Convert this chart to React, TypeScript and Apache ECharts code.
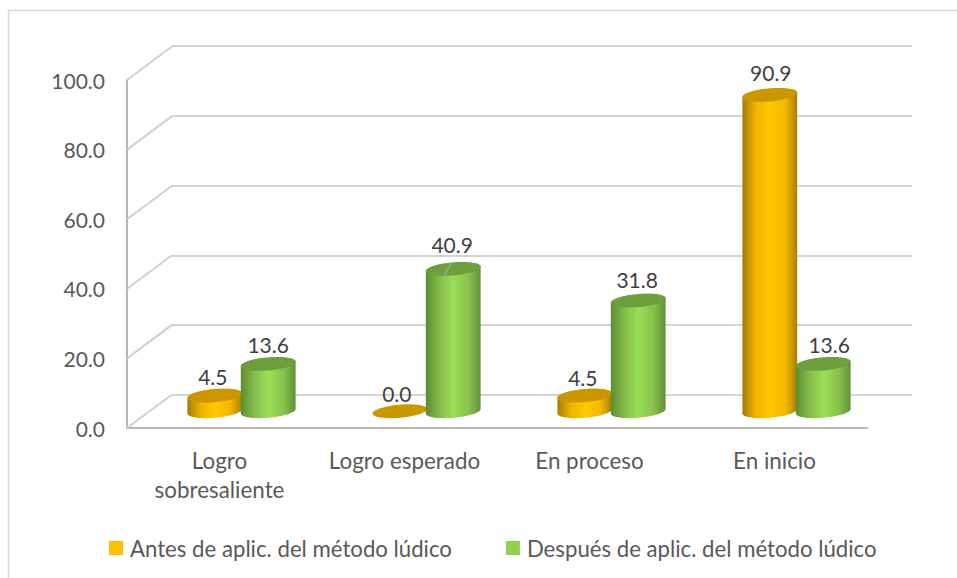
import React, { useEffect, useRef } from "react";
import * as echarts from "echarts";

const categories = ["Logro\nsobresaliente", "Logro esperado", "En proceso", "En inicio"];
const antes = [4.5, 0.0, 4.5, 90.9];
const despues = [13.6, 40.9, 31.8, 13.6];
const seriesNames = ["Antes de aplic. del método lúdico", "Después de aplic. del método lúdico"];
const yTicks = [0, 20, 40, 60, 80, 100];

const FONT = "Lato";
const DEPTH_X = 45;
const DEPTH_Y = 33.5;
const RX = 27.5;
const RY = 6.5;
const TILT = (-5 * Math.PI) / 180;

const ellipsePoint = (cx: number, cy: number, t: number) => [
  cx + RX * Math.cos(t) * Math.cos(TILT) - RY * Math.sin(t) * Math.sin(TILT),
  cy + RX * Math.cos(t) * Math.sin(TILT) + RY * Math.sin(t) * Math.cos(TILT),
];

const sample = (cx: number, cy: number, from: number, to: number, n = 40) => {
  const out: number[][] = [];
  for (let i = 0; i <= n; i++) out.push(ellipsePoint(cx, cy, from + ((to - from) * i) / n));
  return out;
};

const cylinderSeries = (
  name: string,
  values: number[],
  offsetX: number,
  legendColor: string,
  sideStops: [number, string][],
  topColor: string,
  nudges: [number, number][],
  z: number,
) => ({
  type: "custom",
  name,
  xAxisIndex: 0,
  yAxisIndex: 0,
  z,
  itemStyle: { color: legendColor },
  data: values.map((v, i) => [i, v]),
  encode: { x: 0, y: 1 },
  renderItem: (_: any, api: any) => {
    const i = api.value(0);
    const v = api.value(1);
    const base = api.coord([i, 0]);
    const top = api.coord([i, v]);
    const cx = base[0] + offsetX;
    const by = base[1] - DEPTH_Y / 2;
    const ty = top[1] - DEPTH_Y / 2;
    const children: any[] = [];
    if (v > 0) {
      children.push({
        type: "polygon",
        shape: {
          points: [...sample(cx, by, Math.PI, 0), ...sample(cx, ty, 0, -Math.PI)],
        },
        style: {
          fill: {
            type: "linear",
            x: 0,
            y: 0,
            x2: 1,
            y2: 0,
            colorStops: sideStops.map(([offset, color]) => ({ offset, color })),
          },
        },
      });
    }
    children.push({
      type: "polygon",
      shape: { points: sample(cx, ty, 0, Math.PI * 2, 64) },
      style: { fill: topColor },
    });
    const [nx, ny] = nudges[i];
    children.push({
      type: "text",
      style: {
        text: v.toFixed(1),
        x: cx + nx,
        y: ty + ny,
        fill: "#404040",
        font: `21px ${FONT}`,
        align: "center",
        verticalAlign: "middle",
      },
    });
    if (v === 40.9) {
      children.push({
        type: "line",
        shape: { x1: cx - 2, y1: ty - 6, x2: cx - 9, y2: ty + 7 },
        style: { stroke: "#a6a6a6", lineWidth: 1.2 },
      });
    }
    return { type: "group", children };
  },
});

export default function App() {
  const ref = useRef<HTMLDivElement>(null);
  useEffect(() => {
    const chart = echarts.init(ref.current!, undefined, { renderer: "svg" });
    chart.setOption({
      animation: false,
      backgroundColor: "#ffffff",
      grid: [
        { left: 127, top: 80, width: 740, height: 348 },
        { left: 172, top: 46, width: 740, height: 349 },
      ],
      xAxis: [
        {
          type: "category",
          gridIndex: 0,
          data: categories,
          axisTick: { show: false },
          axisLine: { lineStyle: { color: "#b5b5b5", width: 2 } },
          axisLabel: {
            color: "#595959",
            fontFamily: FONT,
            fontSize: 22.4,
            lineHeight: 29,
            margin: 18,
            verticalAlign: "top",
            interval: 0,
          },
        },
        { type: "category", gridIndex: 1, data: categories, show: false },
      ],
      yAxis: [
        {
          type: "value",
          gridIndex: 0,
          min: 0,
          max: 100,
          interval: 20,
          axisLine: { show: true, lineStyle: { color: "#b5b5b5", width: 2 } },
          axisTick: { show: false },
          splitLine: { show: false },
          axisLabel: {
            color: "#595959",
            fontFamily: FONT,
            fontSize: 21,
            margin: 22,
            padding: [2, 0, 0, 0],
            formatter: (v: number) => v.toFixed(1),
          },
        },
        {
          type: "value",
          gridIndex: 1,
          min: 0,
          max: 100,
          interval: 20,
          axisLine: { show: false },
          axisTick: { show: false },
          axisLabel: { show: false },
          splitLine: { show: true, lineStyle: { color: "#d4d4d4", width: 2 } },
        },
      ],
      legend: {
        left: 109,
        top: 537,
        padding: 0,
        itemWidth: 14,
        itemHeight: 14,
        itemGap: 54,
        icon: "rect",
        data: seriesNames,
        textStyle: { color: "#595959", fontFamily: FONT, fontSize: 22.2, padding: [0, 0, 0, 2] },
      },
      graphic: [
        {
          type: "polyline",
          silent: true,
          shape: { points: [[8.5, 578], [8.5, 10.5], [957, 10.5]] },
          style: { stroke: "#d9d9d9", fill: "none", lineWidth: 1.5 },
        },
      ],
      series: [
        {
          type: "custom",
          silent: true,
          xAxisIndex: 0,
          yAxisIndex: 0,
          z: 1,
          legendHoverLink: false,
          data: yTicks.map((t) => [0, t]),
          encode: { x: 0, y: 1 },
          renderItem: (_: any, api: any) => {
            const p = api.coord([0, api.value(1)]);
            const gridLeft = p[0] - 92.5;
            return {
              type: "line",
              shape: { x1: gridLeft, y1: p[1], x2: gridLeft + DEPTH_X, y2: p[1] - DEPTH_Y },
              style: { stroke: "#d0d0d0", lineWidth: 2 },
            };
          },
        },
        cylinderSeries(
          seriesNames[0],
          antes,
          -4.7,
          "#ffc000",
          [
            [0, "#a67c00"],
            [0.25, "#f0b400"],
            [0.5, "#ffc800"],
            [0.78, "#f5b800"],
            [1, "#a88000"],
          ],
          "#c99700",
          [
            [-2, -19],
            [-3, -18],
            [-2, -18],
            [1, -22],
          ],
          3,
        ),
        cylinderSeries(
          seriesNames[1],
          despues,
          48.7,
          "#92d050",
          [
            [0, "#5c8c35"],
            [0.25, "#84bd48"],
            [0.5, "#9ade58"],
            [0.78, "#88c24b"],
            [1, "#5f9138"],
          ],
          "#6e9e3e",
          [
            [0, -19],
            [-1, -24],
            [-1, -21],
            [6, -19],
          ],
          4,
        ),
      ],
    });
    return () => chart.dispose();
  }, []);
  return (
    <div
      ref={ref}
      style={{ position: "fixed", left: 0, top: 0, width: 957, height: 578 }}
    />
  );
}
